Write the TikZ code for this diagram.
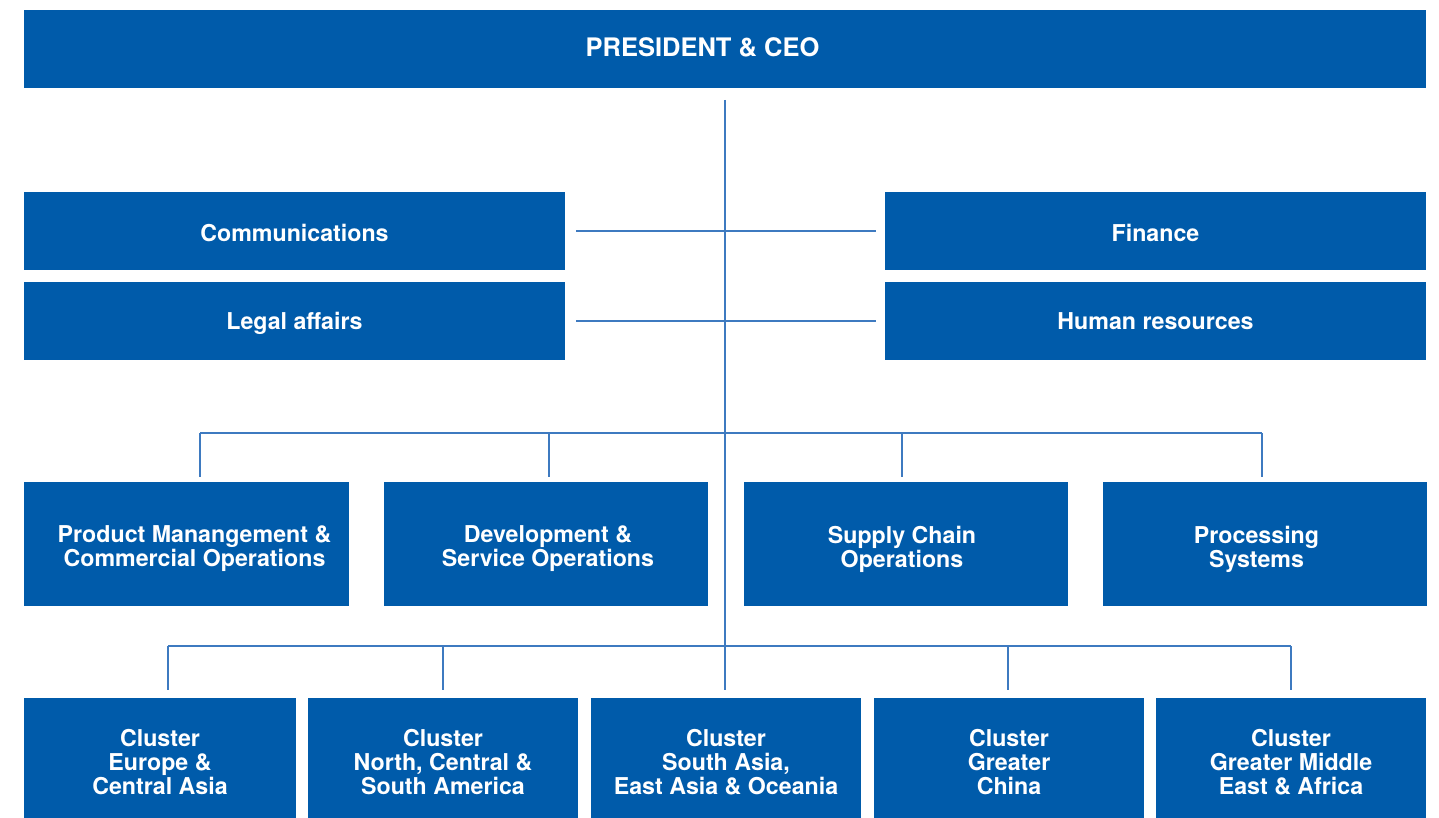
\documentclass[tikz,border=0pt]{standalone}
\usepackage{fontspec}
\setmainfont{TeX Gyre Heros}
\definecolor{boxblue}{RGB}{0,91,170}
\definecolor{lineblue}{RGB}{62,122,192}
\begin{document}
\begin{tikzpicture}[x=1pt,y=-1pt,
  box/.style={fill=boxblue, draw=none, text=white, align=center, inner sep=0pt,
    font=\fontsize{23.2}{24}\selectfont\bfseries},
  txt/.style={text=white, align=center, inner sep=0pt,
    font=\fontsize{23.2}{24}\selectfont\bfseries},
  staffA/.style={box, minimum width=541pt, minimum height=78pt, text height=21.4pt, text depth=0pt},
  staffB/.style={box, minimum width=541pt, minimum height=78pt, text height=16pt, text depth=0pt},
  divbox/.style={box, minimum width=324pt, minimum height=124pt},
  clbox/.style={box, minimum width=270pt, minimum height=120pt},
  conn/.style={draw=lineblue, line width=1.5pt}]
\useasboundingbox (0,0) rectangle (1439,818);
% top
\node[box, minimum width=1402pt, minimum height=78pt, text height=16pt, text depth=0pt,
  font=\fontsize{25.5}{27}\selectfont\bfseries] (ceo) at (725,49) {\hspace*{-45pt}PRESIDENT \& CEO};
% staff
\node[staffA] (comm) at (294.5,231) {Communications};
\node[staffB] (legal) at (294.5,321) {Legal affairs};
\node[staffA] (fin) at (1155.5,231) {Finance};
\node[staffB] (hr) at (1155.5,321) {Human resources};
% row 3
\node[divbox, minimum width=325pt] (b1) at (186.5,544) {};
\node[divbox] (b2) at (546,544) {};
\node[divbox] (b3) at (906,544) {};
\node[divbox] (b4) at (1265,544) {};
\node[txt] (b1t) at (194.5,549) {Product Manangement \&\\Commercial Operations};
\node[txt] (b2t) at (548,549) {Development \&\\Service Operations};
\node[txt] (b3t) at (902,549) {Supply Chain\\Operations};
\node[txt] (b4t) at (1256.5,549) {Processing\\Systems};
% row 4
\node[clbox, minimum width=272pt] (c1) at (160,758) {};
\node[clbox] (c2) at (443,758) {};
\node[clbox] (c3) at (726,758) {};
\node[clbox] (c4) at (1009,758) {};
\node[clbox] (c5) at (1291,758) {};
\node[txt] (c1t) at (160,762) {Cluster\\Europe \&\\Central Asia};
\node[txt] (c2t) at (443,762) {Cluster\\North, Central \&\\South America};
\node[txt] (c3t) at (726,762) {Cluster\\South Asia,\\East Asia \& Oceania};
\node[txt] (c4t) at (1009,762) {Cluster\\Greater\\China};
\node[txt] (c5t) at (1291,762) {Cluster\\Greater Middle\\East \& Africa};
% trunk
\coordinate (top) at (725,100);
\coordinate (bot) at (725,690);
\draw[conn] (top) -- (bot);
% staff connectors
\draw[conn] ([xshift=11pt]comm.east) -- ([xshift=-9pt]fin.west);
\draw[conn] ([xshift=11pt]legal.east) -- ([xshift=-9pt]hr.west);
% row 3 bus
\coordinate (j1) at (200,433);
\coordinate (j2) at (549,433);
\coordinate (j3) at (902,433);
\coordinate (j4) at (1262,433);
\draw[conn] (j1) -- (j4);
\foreach \j/\b in {j1/b1,j2/b2,j3/b3,j4/b4}
  \draw[conn, shorten >=5pt] (\j) -- (\j |- \b.north);
% row 4 bus
\coordinate (k1) at (168,646);
\coordinate (k2) at (443,646);
\coordinate (k4) at (1008,646);
\coordinate (k5) at (1291,646);
\draw[conn] (k1) -- (k5);
\foreach \k/\c in {k1/c1,k2/c2,k4/c4,k5/c5}
  \draw[conn, shorten >=8pt] (\k) -- (\k |- \c.north);
\end{tikzpicture}
\end{document}
